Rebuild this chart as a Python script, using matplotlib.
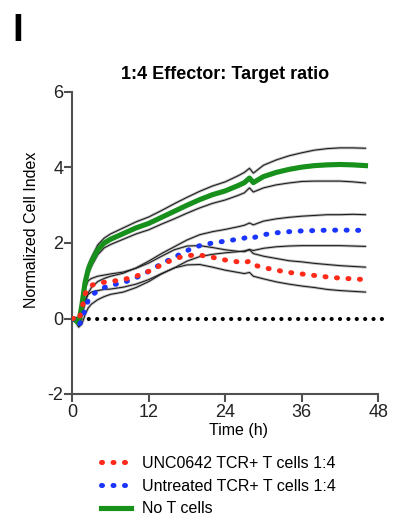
import matplotlib
matplotlib.use("Agg")
import matplotlib.pyplot as plt
import numpy as np
from matplotlib.lines import Line2D

plt.rcParams['font.family'] = ['Liberation Sans', 'DejaVu Sans']
plt.rcParams['axes.unicode_minus'] = False

time_h = [0, 0.5, 1, 1.5, 2, 2.5, 3, 4, 5, 6, 8, 10, 12, 14, 16, 18, 20, 22, 24, 26,
          27, 27.8, 28.4, 30, 32, 34, 36, 38, 40, 42, 44, 46]

no_t_mean = [0, -0.05, -0.12, 0.35, 0.95, 1.3, 1.5, 1.82, 2.0, 2.1, 2.25, 2.4, 2.52, 2.68,
             2.84, 3.0, 3.15, 3.28, 3.38, 3.52, 3.6, 3.72, 3.6, 3.76, 3.87, 3.95, 4.01,
             4.05, 4.07, 4.08, 4.07, 4.05]
no_t_sd = [0.02, 0.03, 0.05, 0.08, 0.1, 0.12, 0.12, 0.13, 0.13, 0.14, 0.15, 0.16, 0.17,
           0.18, 0.2, 0.21, 0.22, 0.23, 0.24, 0.26, 0.27, 0.26, 0.25, 0.3, 0.33, 0.36,
           0.38, 0.41, 0.43, 0.44, 0.45, 0.46]

untreated_mean = [0, -0.05, -0.18, -0.05, 0.25, 0.48, 0.6, 0.74, 0.82, 0.88, 0.95, 1.08,
                  1.25, 1.45, 1.62, 1.8, 1.93, 2.0, 2.05, 2.1, 2.13, 2.18, 2.14, 2.22,
                  2.27, 2.3, 2.32, 2.33, 2.34, 2.34, 2.34, 2.33]
untreated_sd = [0.02, 0.03, 0.05, 0.1, 0.15, 0.2, 0.22, 0.24, 0.24, 0.24, 0.25, 0.26,
                0.27, 0.27, 0.28, 0.28, 0.29, 0.3, 0.31, 0.33, 0.34, 0.35, 0.34, 0.36,
                0.37, 0.38, 0.39, 0.4, 0.41, 0.41, 0.42, 0.42]

unc_mean = [0, 0.0, -0.05, 0.25, 0.65, 0.82, 0.88, 0.93, 0.96, 0.98, 1.03, 1.12, 1.25,
            1.42, 1.58, 1.67, 1.68, 1.62, 1.55, 1.5, 1.48, 1.52, 1.42, 1.35, 1.28, 1.22,
            1.18, 1.14, 1.10, 1.07, 1.05, 1.03]
unc_sd = [0.02, 0.03, 0.05, 0.1, 0.15, 0.18, 0.18, 0.19, 0.19, 0.2, 0.2, 0.21, 0.22,
          0.23, 0.24, 0.25, 0.25, 0.26, 0.27, 0.28, 0.29, 0.3, 0.3, 0.3, 0.31, 0.31,
          0.32, 0.32, 0.33, 0.33, 0.33, 0.33]

baseline_t = [0, 49.3]
baseline_v = [0, 0]

labels = ["UNC0642 TCR+ T cells 1:4", "Untreated TCR+ T cells 1:4", "No T cells"]
xticks = [0, 12, 24, 36, 48]
yticks = [-2, 0, 2, 4, 6]

RED = '#ff2a1a'
BLUE = '#1a35ff'
GREEN = '#17911b'
DOT = (0, (0.2, 2.1))

fig = plt.figure(figsize=(3.93, 5.20), dpi=100)
ax = fig.add_axes([72.3 / 393, 1 - 394 / 520, (391 - 72.3) / 393, (394 - 92) / 520])

t = np.array(time_h)

def band(mean, sd):
    m = np.array(mean); s = np.array(sd)
    for y in (m + s, m - s):
        ax.plot(t, y, color='#bdbdbd', lw=2.0, zorder=2, solid_capstyle='round')
        ax.plot(t, y, color='#1a1a1a', lw=0.75, zorder=3)

band(no_t_mean, no_t_sd)
band(untreated_mean, untreated_sd)
band(unc_mean, unc_sd)

ax.plot(baseline_t, baseline_v, color='black', lw=3.0, linestyle=(0, (0.01, 2.0)),
        dash_capstyle='round', zorder=4)
ax.plot(t, no_t_mean, color=GREEN, lw=3.7, zorder=5)
ax.plot(t, untreated_mean, color=BLUE, lw=3.6, linestyle=DOT,
        dash_capstyle='round', zorder=6)
ax.plot(t, unc_mean, color=RED, lw=3.6, linestyle=DOT,
        dash_capstyle='round', zorder=7)

ax.set_xlim(0, 50)
ax.set_ylim(-2, 6)
ax.set_xticks(xticks)
ax.set_yticks(yticks)
for side in ('top', 'right'):
    ax.spines[side].set_visible(False)
ax.spines['bottom'].set_bounds(0, 48)
for side in ('left', 'bottom'):
    ax.spines[side].set_linewidth(1.5)
    ax.spines[side].set_color('#505050')
ax.tick_params(direction='out', length=6, width=1.5, color='#505050',
               labelsize=13, labelcolor='#222222')
ax.tick_params(axis='y', pad=0.5)
ax.tick_params(axis='x', pad=1.5)

ax.text(24, 6.25, "1:4 Effector: Target ratio", ha='center', va='bottom',
        fontsize=13, fontweight='bold')
ax.set_ylabel("Normalized Cell Index", fontsize=11.5)
ax.yaxis.set_label_coords((32 - 72.3) / (391 - 72.3), (394 - 230) / (394 - 92))
ax.set_xlabel("Time (h)", fontsize=11.5)
ax.xaxis.set_label_coords(0.523, -(431 - 394) / (394 - 92))
ax.xaxis.label.set_va('center')
ax.yaxis.label.set_va('center')

fig.text(18 / 393, 1 - 31 / 520, "I", fontsize=28, fontweight='bold', ha='center',
         va='center')

handles = [
    Line2D([], [], color=RED, lw=3.6, linestyle=DOT, dash_capstyle='round'),
    Line2D([], [], color=BLUE, lw=3.6, linestyle=DOT, dash_capstyle='round'),
    Line2D([], [], color=GREEN, lw=3.7),
]
fig.legend(handles, labels, loc='upper left', bbox_to_anchor=(101 / 393, 1 - 456 / 520),
           frameon=False, fontsize=11.5, handlelength=1.85, handletextpad=0.7,
           labelspacing=0.48, borderaxespad=0, borderpad=0)

fig.savefig("out.png", dpi=100)
